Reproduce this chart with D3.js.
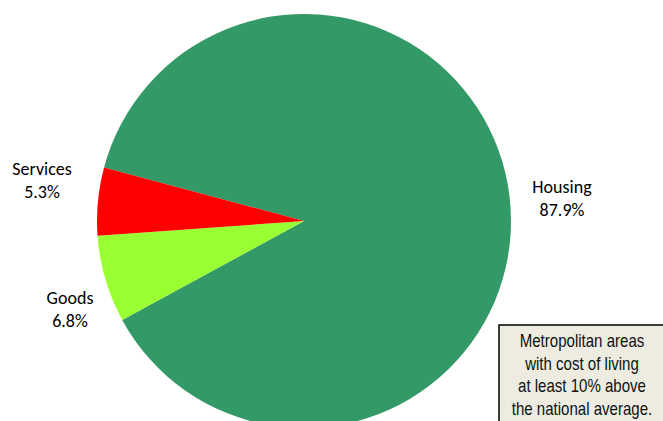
<!DOCTYPE html>
<html>
<head>
<meta charset="utf-8">
<script src="https://cdn.jsdelivr.net/npm/d3@7"></script>
<style>
  html, body { margin: 0; padding: 0; background: #fff; overflow: hidden; }
  svg { display: block; }
</style>
</head>
<body>
<svg id="chart" width="663" height="421"></svg>
<script>
// Share of the cost-of-living premium by component
const categories = ["Housing", "Goods", "Services"];
const shares = [87.9, 6.8, 5.3];
const colors = ["#339966", "#99FF33", "#FF0000"];
const noteLines = [
  "Metropolitan areas",
  "with cost of living",
  "at least 10% above",
  "the national average."
];

const svg = d3.select("#chart");
const cx = 304, cy = 221, radius = 207;

const data = categories.map((c, i) => ({ name: c, value: shares[i], color: colors[i] }));

const startDeg = -75;
const pie = d3.pie()
  .value(d => d.value)
  .sort(null)
  .startAngle(startDeg * Math.PI / 180)
  .endAngle((startDeg + 360) * Math.PI / 180);

const arc = d3.arc().innerRadius(0).outerRadius(radius);

const g = svg.append("g").attr("transform", `translate(${cx},${cy})`);
g.selectAll("path")
  .data(pie(data))
  .join("path")
  .attr("d", arc)
  .attr("fill", d => d.data.color);

// Labels placed outside the pie, two lines each
const labelPos = {
  Housing: [562, 193],
  Goods: [70, 304],
  Services: [42, 175]
};
const fmt = d3.format(".1f");
data.forEach(d => {
  const [x, y] = labelPos[d.name];
  const t = svg.append("text")
    .attr("x", x).attr("y", y)
    .attr("text-anchor", "middle")
    .attr("font-family", "Carlito, Lato, 'Open Sans', sans-serif")
    .attr("font-size", 18)
    .attr("fill", "#000");
  t.append("tspan").attr("x", x).text(d.name);
  t.append("tspan").attr("x", x).attr("dy", 23).text(fmt(d.value) + "%");
});

// Note box in the lower right corner
svg.append("rect")
  .attr("x", 499).attr("y", 325)
  .attr("width", 180).attr("height", 120)
  .attr("fill", "#EEECE1")
  .attr("stroke", "#000")
  .attr("stroke-width", 1.5);

const note = svg.append("text")
  .attr("text-anchor", "middle")
  .attr("transform", "translate(582,0) scale(0.86,1)")
  .attr("font-family", "'Liberation Sans Narrow', 'Arial Narrow', 'Liberation Sans', sans-serif")
  .attr("font-size", 17.5)
  .attr("fill", "#111");
noteLines.forEach((line, i) => {
  note.append("tspan")
    .attr("x", 0)
    .attr("y", 347 + i * 22.7)
    .text(line);
});
</script>
</body>
</html>
